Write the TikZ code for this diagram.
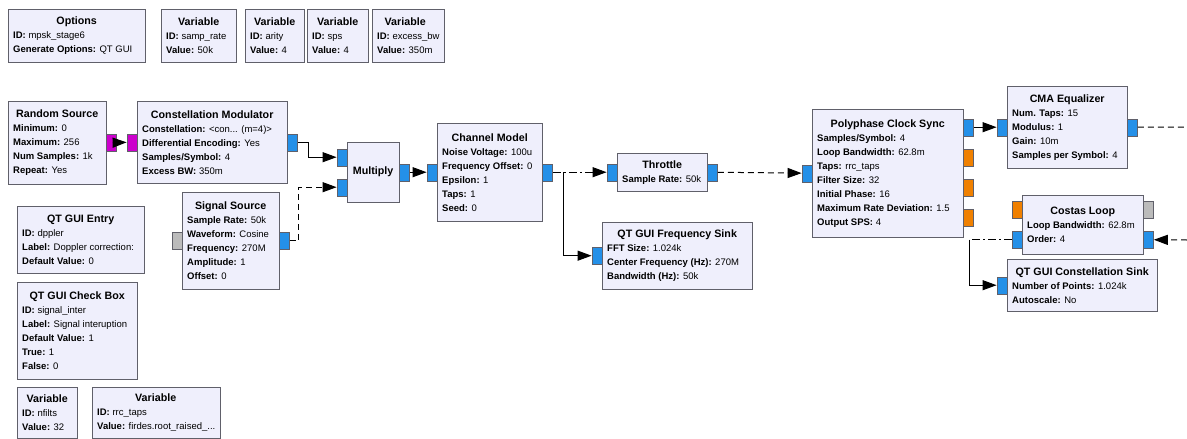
\documentclass[tikz,border=0pt]{standalone}
\usepackage{fontspec}
\setmainfont{Liberation Sans}
\usetikzlibrary{positioning}
\usetikzlibrary{calc}
\usetikzlibrary{arrows.meta}
\definecolor{blkfill}{RGB}{239,239,252}
\definecolor{blkline}{RGB}{96,96,106}
\definecolor{cplx}{RGB}{36,144,232}
\definecolor{bytes}{RGB}{204,0,204}
\definecolor{flt}{RGB}{240,128,0}
\definecolor{msg}{RGB}{187,187,187}
\newcommand{\blkttl}[1]{{\fontsize{10.7}{14}\selectfont\bfseries #1}}

\begin{document}
\begin{tikzpicture}[x=1pt, y=-1pt,
    blk/.style={draw=blkline, fill=blkfill, anchor=north west, align=left, inner xsep=5pt, inner ysep=0pt, font=\fontsize{9.5}{14}\selectfont},
    port/.style={draw=blkline, inner sep=0pt, minimum width=10pt, minimum height=17pt},
    cport/.style={port, fill=cplx},
    bport/.style={port, fill=bytes},
    fport/.style={port, fill=flt},
    mport/.style={port, fill=msg},
    wire/.style={line width=1pt, -{Triangle[length=14pt,width=10pt]}},
    dashwire/.style={wire, dash pattern=on 6pt off 4pt},
    dotwire/.style={wire, dash pattern=on 8pt off 3pt on 2pt off 3pt}]
    \path[use as bounding box, fill=white] (0,0) rectangle (1187,439);

    % variables and options
    \node[blk, minimum height=53] (opts) at (8,9) {\makebox[127pt]{\blkttl{Options}}\\ \textbf{ID:} mpsk\_stage6\\ \textbf{Generate Options:} QT GUI};
    \node[blk, minimum height=53] (vsr) at (161,9) {\makebox[65pt]{\blkttl{Variable}}\\ \textbf{ID:} samp\_rate\\ \textbf{Value:} 50k};
    \node[blk, minimum height=53] (var) at (245,9) {\makebox[49pt]{\blkttl{Variable}}\\ \textbf{ID:} arity\\ \textbf{Value:} 4};
    \node[blk, minimum height=53] (vsp) at (307,9) {\makebox[51pt]{\blkttl{Variable}}\\ \textbf{ID:} sps\\ \textbf{Value:} 4};
    \node[blk, minimum height=53] (vbw) at (372,9) {\makebox[56pt]{\blkttl{Variable}}\\ \textbf{ID:} excess\_bw\\ \textbf{Value:} 350m};
    \node[blk, minimum height=67] (ent) at (17,206) {\makebox[117pt]{\blkttl{QT GUI Entry}}\\ \textbf{ID:} dppler\\ \textbf{Label:} Doppler correction:\\ \textbf{Default Value:} 0};
    \node[blk, minimum height=97] (chk) at (17,282) {\makebox[110pt]{\blkttl{QT GUI Check Box}}\\ \textbf{ID:} signal\_inter\\ \textbf{Label:} Signal interuption\\ \textbf{Default Value:} 1\\ \textbf{True:} 1\\ \textbf{False:} 0};
    \node[blk, minimum height=51] (vnf) at (17,387) {\makebox[50pt]{\blkttl{Variable}}\\ \textbf{ID:} nfilts\\ \textbf{Value:} 32};
    \node[blk, minimum height=51] (vrrc) at (92,387) {\makebox[117pt]{\blkttl{Variable}}\\ \textbf{ID:} rrc\_taps\\ \textbf{Value:} firdes.root\_raised\_...};

    % blocks
    \node[blk, minimum height=83] (rs) at (8,101) {\makebox[88pt]{\blkttl{Random Source}}\\ \textbf{Minimum:} 0\\ \textbf{Maximum:} 256\\ \textbf{Num Samples:} 1k\\ \textbf{Repeat:} Yes};
    \node[blk, minimum height=82] (cm) at (137,101) {\makebox[140pt]{\blkttl{Constellation Modulator}}\\ \textbf{Constellation:} <con... (m=4)>\\ \textbf{Differential Encoding:} Yes\\ \textbf{Samples/Symbol:} 4\\ \textbf{Excess BW:} 350m};
    \node[blk, minimum height=60] (mul) at (347,142) {\makebox[42pt]{\blkttl{Multiply}}};
    \node[blk, minimum height=97] (ss) at (182,192) {\makebox[87pt]{\blkttl{Signal Source}}\\ \textbf{Sample Rate:} 50k\\ \textbf{Waveform:} Cosine\\ \textbf{Frequency:} 270M\\ \textbf{Amplitude:} 1\\ \textbf{Offset:} 0};
    \node[blk, minimum height=98] (ch) at (437,123) {\makebox[95pt]{\blkttl{Channel Model}}\\ \textbf{Noise Voltage:} 100u\\ \textbf{Frequency Offset:} 0\\ \textbf{Epsilon:} 1\\ \textbf{Taps:} 1\\ \textbf{Seed:} 0};
    \node[blk, minimum height=38] (th) at (617,153) {\makebox[80pt]{\blkttl{Throttle}}\\ \textbf{Sample Rate:} 50k};
    \node[blk, minimum height=67] (fs) at (602,222) {\makebox[140pt]{\blkttl{QT GUI Frequency Sink}}\\ \textbf{FFT Size:} 1.024k\\ \textbf{Center Frequency (Hz):} 270M\\ \textbf{Bandwidth (Hz):} 50k};
    \node[blk, minimum height=128] (pcs) at (812,109) {\makebox[141pt]{\blkttl{Polyphase Clock Sync}}\\ \textbf{Samples/Symbol:} 4\\ \textbf{Loop Bandwidth:} 62.8m\\ \textbf{Taps:} rrc\_taps\\ \textbf{Filter Size:} 32\\ \textbf{Initial Phase:} 16\\ \textbf{Maximum Rate Deviation:} 1.5\\ \textbf{Output SPS:} 4};
    \node[blk, minimum height=82] (cma) at (1007,86) {\makebox[110pt]{\blkttl{CMA Equalizer}}\\ \textbf{Num. Taps:} 15\\ \textbf{Modulus:} 1\\ \textbf{Gain:} 10m\\ \textbf{Samples per Symbol:} 4};
    \node[blk, minimum height=59] (cl) at (1022,195) {\makebox[111pt]{\blkttl{Costas Loop}}\\ \textbf{Loop Bandwidth:} 62.8m\\ \textbf{Order:} 4};
    \node[blk, minimum height=52] (cs) at (1007,259) {\makebox[140pt]{\blkttl{QT GUI Constellation Sink}}\\ \textbf{Number of Points:} 1.024k\\ \textbf{Autoscale:} No};

    % ports
    \node[bport, right=0pt of rs.east] (rs_out) {};
    \node[bport, left=0pt of cm.west] (cm_in) {};
    \node[cport, right=0pt of cm.east] (cm_out) {};
    \node[cport, anchor=east] (mul_in1) at ($(mul.west)+(0,-15)$) {};
    \node[cport, anchor=east] (mul_in2) at ($(mul.west)+(0,15)$) {};
    \node[cport, right=0pt of mul.east] (mul_out) {};
    \node[mport, left=0pt of ss.west] (ss_in) {};
    \node[cport, right=0pt of ss.east] (ss_out) {};
    \node[cport, left=0pt of ch.west] (ch_in) {};
    \node[cport, right=0pt of ch.east] (ch_out) {};
    \node[cport, left=0pt of th.west] (th_in) {};
    \node[cport, right=0pt of th.east] (th_out) {};
    \node[cport, left=0pt of fs.west] (fs_in) {};
    \node[cport, left=0pt of pcs.west] (pcs_in) {};
    \node[cport, anchor=west] (pcs_out) at ($(pcs.east)+(0,-46)$) {};
    \node[fport, anchor=west] (pcs_f1) at ($(pcs.east)+(0,-16)$) {};
    \node[fport, anchor=west] (pcs_f2) at ($(pcs.east)+(0,14)$) {};
    \node[fport, anchor=west] (pcs_f3) at ($(pcs.east)+(0,44)$) {};
    \node[cport, left=0pt of cma.west] (cma_in) {};
    \node[cport, right=0pt of cma.east] (cma_out) {};
    \node[fport, anchor=east] (cl_fin) at ($(cl.west)+(0,-15)$) {};
    \node[cport, anchor=east] (cl_out) at ($(cl.west)+(0,15)$) {};
    \node[mport, anchor=west] (cl_msg) at ($(cl.east)+(0,-15)$) {};
    \node[cport, anchor=west] (cl_in) at ($(cl.east)+(0,15)$) {};
    \node[cport, left=0pt of cs.west] (cs_in) {};

    % connections
    \coordinate (chsplit) at ($(ch_out.east)+(11,0)$);
    \coordinate (cma_exit) at (1187,127);
    \coordinate (cl_entry) at (1187,240);

    \draw[wire] (rs_out) -- (cm_in);
    \draw[wire] (cm_out.east) -- ++(11,0) |- (mul_in1);
    \draw[dashwire] (ss_out.east) -- ++(9,0) |- (mul_in2);
    \draw[wire] (mul_out) -- (ch_in);
    \draw[dotwire] (ch_out) -- (th_in);
    \draw[wire] (chsplit) |- (fs_in);
    \draw[dashwire] (th_out) -- (pcs_in);
    \draw[wire] (pcs_out) -- (cma_in);
    \draw[dashwire, -] (cma_out) -- (cma_exit);
    \draw[dashwire] (cl_entry) -- (cl_in);
    \draw[dotwire, -] (cl_out.west) -- ++(-42,0) coordinate (clsplit);
    \draw[wire] (clsplit) |- (cs_in);
\end{tikzpicture}
\end{document}
